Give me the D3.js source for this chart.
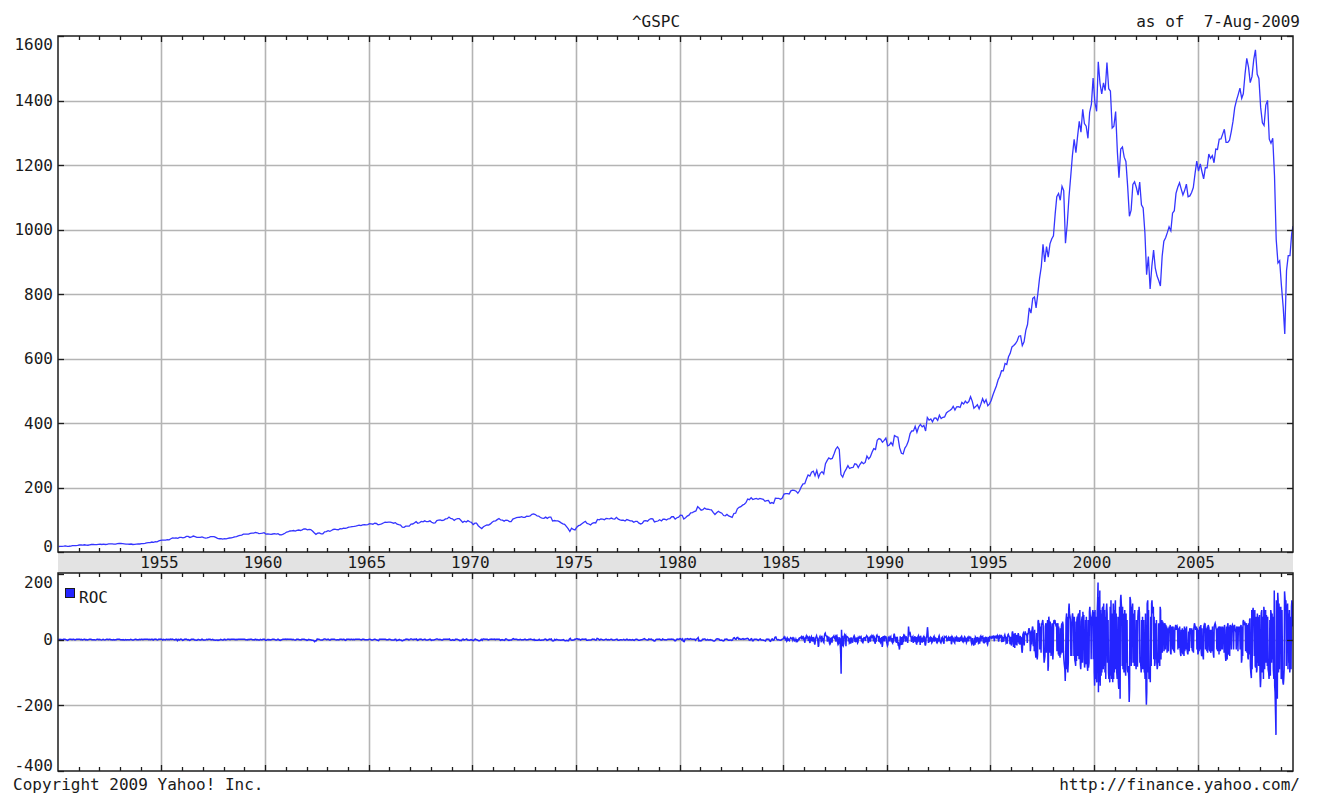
<!DOCTYPE html>
<html>
<head>
<meta charset="utf-8">
<script src="https://cdn.jsdelivr.net/npm/d3@7"></script>
<style>
  body { margin: 0; background: #fff; }
  text { font-family: "DejaVu Sans Mono", monospace; font-size: 16px; fill: #1a1a1a; }
</style>
</head>
<body>
<svg id="chart" width="1318" height="794"></svg>
<script>
// ^GSPC price history with a rate-of-change panel underneath.
const symbol = "^GSPC";
const asOfLabel = "as of  7-Aug-2009";
const copyrightLabel = "Copyright 2009 Yahoo! Inc.";
const sourceLabel = "http://finance.yahoo.com/";
const rocLabel = "ROC";

const firstYear = 1950;
const weeklyFromYear = 1985;
const startDate = new Date(1950, 0, 3);
const endDate = new Date(2009, 7, 7);

// Index level, one value per month, one row per year from 1950.
const price = [
  [17.1, 17.2, 17.3, 18.0, 18.8, 17.7, 17.8, 18.4, 19.5, 19.5, 19.5, 20.4],
  [21.7, 21.8, 21.4, 22.4, 21.5, 21.0, 22.4, 23.3, 23.3, 22.9, 22.9, 23.8],
  [24.1, 23.3, 24.4, 23.3, 23.9, 25.0, 25.4, 25.0, 24.5, 24.5, 25.7, 26.6],
  [26.4, 25.9, 25.3, 24.6, 24.5, 24.1, 24.8, 23.3, 23.4, 24.5, 24.8, 24.8],
  [26.1, 26.2, 26.9, 28.3, 29.2, 29.2, 30.9, 29.8, 32.3, 31.7, 34.2, 36.0],
  [36.6, 36.8, 36.6, 38.0, 37.9, 41.0, 43.5, 43.2, 43.7, 42.3, 45.5, 45.5],
  [43.8, 45.3, 48.5, 48.4, 45.2, 47.0, 49.4, 47.5, 45.4, 45.6, 45.1, 46.7],
  [44.7, 43.3, 44.1, 45.7, 47.4, 47.4, 47.9, 45.2, 42.4, 41.1, 41.7, 40.0],
  [41.7, 40.8, 42.1, 43.4, 44.1, 45.2, 47.2, 47.8, 50.1, 51.3, 52.5, 55.2],
  [55.4, 55.4, 55.4, 57.6, 58.7, 58.5, 60.5, 59.6, 56.9, 57.5, 58.3, 59.9],
  [55.6, 56.1, 55.3, 54.4, 55.8, 56.9, 55.5, 57.0, 53.5, 53.4, 55.5, 58.1],
  [61.8, 63.4, 65.1, 65.3, 66.6, 64.6, 66.8, 68.1, 66.7, 68.6, 71.3, 71.6],
  [68.8, 70.0, 69.6, 65.2, 59.6, 54.8, 58.2, 59.1, 56.3, 56.5, 62.3, 63.1],
  [66.2, 64.3, 66.6, 69.8, 70.8, 69.4, 69.1, 72.5, 71.7, 74.0, 73.2, 75.0],
  [77.0, 77.8, 79.0, 79.5, 80.4, 81.7, 83.2, 81.8, 84.2, 84.9, 84.4, 84.8],
  [87.6, 87.4, 86.2, 89.1, 88.4, 84.1, 85.3, 87.2, 90.0, 92.4, 91.6, 92.4],
  [92.9, 91.2, 89.2, 91.1, 86.1, 84.7, 83.6, 77.1, 76.6, 80.2, 80.5, 80.3],
  [86.6, 86.8, 90.2, 94.0, 89.1, 90.6, 94.8, 93.6, 96.7, 93.9, 94.0, 96.5],
  [92.2, 89.4, 90.2, 97.6, 98.7, 99.6, 97.7, 98.9, 102.7, 103.4, 108.4, 103.9],
  [103.0, 98.1, 101.5, 103.7, 103.5, 97.7, 91.8, 95.5, 93.1, 97.2, 93.8, 92.1],
  [85.0, 89.5, 89.6, 81.5, 76.6, 72.7, 78.1, 81.5, 84.2, 83.3, 87.2, 92.2],
  [95.9, 96.8, 100.3, 104.0, 99.6, 98.7, 95.6, 99.0, 98.3, 94.2, 94.0, 102.1],
  [103.9, 106.6, 107.2, 107.7, 109.5, 107.1, 107.4, 111.1, 110.6, 111.6, 116.7, 118.1],
  [116.0, 111.7, 111.5, 107.0, 105.0, 104.3, 108.2, 104.3, 108.4, 108.3, 96.0, 97.6],
  [96.6, 96.2, 94.0, 90.3, 87.3, 86.0, 79.3, 72.2, 63.5, 73.9, 70.0, 68.6],
  [77.0, 81.6, 83.4, 87.3, 91.2, 95.2, 88.8, 86.9, 83.9, 89.0, 91.2, 90.2],
  [100.9, 99.7, 102.8, 101.6, 100.2, 104.3, 103.4, 102.9, 105.2, 102.9, 102.1, 107.5],
  [102.0, 99.8, 98.4, 98.4, 96.1, 100.5, 98.9, 96.8, 96.5, 92.3, 94.8, 95.1],
  [89.3, 87.0, 89.2, 96.8, 97.2, 95.5, 100.7, 103.3, 102.5, 93.2, 94.7, 96.1],
  [99.9, 96.3, 101.6, 101.8, 99.1, 102.9, 103.8, 109.3, 109.3, 101.8, 106.2, 107.9],
  [114.2, 113.7, 102.1, 106.3, 111.2, 114.2, 121.7, 122.4, 125.5, 127.5, 140.5, 135.8],
  [129.6, 131.3, 136.0, 132.8, 132.6, 131.2, 130.9, 122.8, 116.2, 121.9, 126.4, 122.6],
  [120.4, 113.1, 112.0, 116.4, 111.9, 109.6, 107.1, 119.5, 120.4, 133.7, 138.5, 140.6],
  [145.3, 148.1, 153.0, 164.4, 162.4, 168.1, 162.6, 164.4, 166.1, 163.6, 166.4, 164.9],
  [163.4, 157.1, 159.2, 160.1, 150.6, 153.2, 150.7, 166.7, 166.1, 166.1, 163.6, 167.2],
  [179.6, 181.2, 180.7, 179.8, 189.6, 191.9, 190.9, 188.6, 182.1, 189.8, 202.2, 211.3],
  [211.8, 226.9, 238.9, 235.5, 247.4, 250.8, 236.1, 252.9, 231.3, 244.0, 249.2, 242.2],
  [274.1, 284.2, 291.7, 288.4, 290.1, 304.0, 318.7, 326.0, 318.0, 240.0, 232.0, 247.1],
  [257.1, 267.8, 258.9, 261.3, 262.2, 273.5, 272.0, 261.5, 271.9, 279.0, 273.7, 277.7],
  [297.5, 288.9, 294.9, 309.6, 320.5, 318.0, 346.1, 351.5, 349.2, 340.4, 346.0, 353.4],
  [329.1, 331.9, 339.9, 330.8, 361.2, 358.0, 356.2, 322.6, 306.1, 304.0, 322.2, 330.2],
  [343.9, 367.1, 375.2, 375.3, 389.8, 371.2, 387.8, 395.4, 387.9, 392.5, 375.2, 417.1],
  [408.8, 412.7, 403.7, 415.0, 415.4, 408.1, 424.2, 414.0, 417.8, 418.7, 431.4, 435.7],
  [438.8, 443.4, 451.7, 440.2, 450.2, 450.5, 448.1, 463.6, 458.9, 467.8, 461.8, 466.5],
  [481.6, 467.1, 445.8, 450.9, 456.5, 444.3, 458.3, 475.5, 462.7, 472.4, 453.7, 459.3],
  [470.4, 487.4, 500.7, 514.7, 533.4, 544.8, 562.1, 561.9, 584.4, 581.5, 605.4, 615.9],
  [636.0, 640.4, 645.5, 654.2, 669.1, 670.6, 640.0, 652.0, 687.3, 705.3, 757.0, 740.7],
  [786.2, 790.8, 757.1, 801.3, 848.3, 885.1, 954.3, 899.5, 947.3, 914.6, 955.4, 970.4],
  [980.3, 1049.3, 1101.8, 1111.8, 1090.8, 1133.8, 1120.7, 957.3, 1017.0, 1098.7, 1163.6, 1229.2],
  [1279.6, 1238.3, 1286.4, 1335.2, 1301.8, 1372.7, 1328.7, 1320.4, 1282.7, 1362.9, 1388.9, 1469.3],
  [1394.5, 1366.4, 1520.0, 1452.4, 1420.6, 1454.6, 1430.8, 1517.7, 1436.5, 1429.4, 1315.0, 1320.3],
  [1366.0, 1239.9, 1160.3, 1249.5, 1255.8, 1224.4, 1211.2, 1133.6, 1040.9, 1059.8, 1139.5, 1148.1],
  [1130.2, 1106.7, 1147.4, 1076.9, 1067.1, 989.8, 860.0, 916.1, 815.3, 885.8, 936.3, 879.8],
  [855.7, 841.2, 825.0, 916.9, 963.6, 974.5, 990.3, 1008.0, 996.0, 1050.7, 1058.2, 1111.9],
  [1131.1, 1144.9, 1126.2, 1107.3, 1120.7, 1140.8, 1101.7, 1104.2, 1114.6, 1130.2, 1173.8, 1211.9],
  [1181.3, 1203.6, 1180.6, 1156.9, 1191.5, 1191.3, 1234.2, 1220.3, 1228.8, 1207.0, 1249.5, 1248.3],
  [1280.1, 1280.7, 1294.9, 1310.6, 1270.1, 1270.2, 1276.7, 1303.8, 1335.9, 1377.9, 1400.6, 1418.3],
  [1438.2, 1406.8, 1420.9, 1482.4, 1530.6, 1503.4, 1455.3, 1474.0, 1526.8, 1557.0, 1481.1, 1468.4],
  [1378.6, 1330.6, 1322.7, 1385.6, 1400.4, 1280.0, 1267.4, 1282.8, 1166.4, 968.8, 896.2, 903.3],
  [825.9, 760.0, 676.0, 872.8, 919.1, 919.3, 987.5, 1010.5]
];

// Rate of change, two readings per month, one row per year, 1950-1984.
const rocSemiMonthly = [
  [0, 1, 0, 1, 0, 0, 1, 1, 1, 0, -1, -2, 0, 1, 1, 1, 0, 1, 1, 0, 0, 1, 1, 1],
  [1, 1, 0, 1, -1, 0, 1, 1, -1, 0, -1, 0, 1, 1, 1, 0, 0, 0, 0, -1, 0, 1, 1, 0],
  [1, 0, -1, 0, 1, 0, -1, 0, 1, 1, 0, 1, 1, 0, 0, -1, 0, -1, 0, 0, 1, 1, 1, 1],
  [0, 0, -1, 0, -1, -1, 0, -1, 0, 0, -1, 0, 1, 0, -1, -1, 0, 1, 1, 0, 0, 0, 1, 0],
  [1, 1, 0, 1, 1, 1, 1, 1, 1, 0, 1, 0, 1, 1, -1, 1, 1, 2, 0, -1, 1, 1, 2, 1],
  [1, -1, 1, 0, -1, 1, 1, 0, 1, 0, 2, 1, 2, 1, 0, -1, 1, 1, -3, 1, -1, 1, 2, 1],
  [-2, -1, 1, 1, 2, 1, -1, 0, -2, -1, 1, 1, 1, 1, -1, -1, -2, -1, 1, 0, -1, -1, 1, 1],
  [-1, -1, -1, 0, 1, 0, 1, 1, 1, 0, 0, 1, -1, -1, -2, -1, -1, -2, -1, -1, 1, 0, -1, -1],
  [1, 1, -1, 0, 1, 1, 1, 0, 1, 1, 1, 1, 1, 0, 1, 0, 1, 1, 1, 1, 1, 1, 1, 1],
  [1, 0, 0, -1, 1, 0, 1, 1, 1, 0, 0, -1, 1, 1, -1, 0, -1, -1, 1, 0, 0, 1, 1, 1],
  [-2, -2, 0, 1, -1, 0, -1, 0, 1, 1, 1, 0, -1, -1, 1, 1, -1, -2, -1, 0, 1, 1, 1, 2],
  [1, 2, 1, 1, 1, 1, 1, 0, 1, 0, -1, -1, 1, 1, 1, 0, 0, -1, 1, 1, 1, 1, 0, 0],
  [-2, -1, 1, 0, 0, -1, -2, -2, -3, -6, -3, -3, 2, 1, 1, 0, -1, -1, -1, 1, 2, 2, 1, 0],
  [1, 1, -1, -1, 1, 1, 1, 1, 1, 0, -1, 0, 0, -1, 1, 1, 1, 0, 1, 1, -1, -2, 1, 1],
  [1, 1, 0, 1, 1, 0, 1, 0, 1, 1, 1, 1, 1, 1, 0, -1, 1, 1, 1, 0, 0, 0, 0, 0],
  [1, 1, 0, -1, -1, 0, 1, 1, 0, -1, -2, -3, 1, 1, 1, 1, 1, 1, 1, 1, 0, 0, 0, 1],
  [1, 0, -1, -1, -1, -1, 1, 1, -3, -2, -1, 1, -1, -1, -3, -3, -1, -1, 1, 2, 1, 1, -1, 0],
  [2, 2, 1, 0, 1, 1, 1, 2, -2, -1, 1, 1, 2, 1, -1, 0, 1, 1, -1, -1, -1, 0, 1, 1],
  [-2, -1, -1, -1, 0, 1, 2, 2, 1, 0, 1, 0, -1, -1, 1, 1, 1, 1, 1, 1, 1, 2, -1, -2],
  [-1, 0, -2, -2, 1, 1, 1, 0, -1, -3, -2, -3, 1, 2, -1, 0, 1, 2, -1, -1, -2, -1, 0, -1],
  [-2, -3, 1, 2, 0, 0, -2, -3, -3, -2, 1, -2, 2, 2, 1, 1, 1, 1, -1, 0, 1, 1, 2, 1],
  [1, 2, 0, 1, 1, 1, 1, 1, -2, -1, 0, -1, -1, -2, 2, 2, 0, -1, -2, -1, -1, -1, 2, 3],
  [1, 1, 1, 1, 0, 0, 0, 1, 0, -1, 0, 0, 1, 1, -1, 0, 0, 1, 1, 2, 1, 0, -1, 1],
  [-2, -1, -2, -2, -1, 1, -2, -2, -1, -1, -1, 1, 2, 1, -2, -1, 1, 2, 1, 2, -3, -4, -3, 1],
  [-1, 1, 0, -1, -1, -1, -2, -1, -1, 0, -2, -3, -3, -2, -3, -3, 2, 4, -1, -2, -1, -1, 1, 1],
  [3, 3, 1, 2, 1, -1, 1, 2, 1, 1, 1, 2, -2, -2, -1, -1, -1, -1, 1, 2, 1, 1, -1, -1],
  [4, 3, 1, -1, 1, 1, 0, -1, -1, 0, 1, 1, -1, 0, -1, 0, 1, 1, -1, -1, -1, 0, 1, 2],
  [-1, -2, -1, 0, 0, -1, 0, 1, -1, -1, 1, 1, -1, -1, 0, -1, -1, 0, -1, -2, 0, 1, 1, 0],
  [-2, -2, -1, 0, 0, 1, 2, 3, 1, 0, -1, -1, 2, 1, 1, 2, -1, -1, -4, -4, 0, 1, 1, 1],
  [2, 1, -1, -1, 2, 1, 0, 0, -1, 0, 1, 1, 1, 1, 2, 1, 1, 0, -3, -3, 1, 2, 1, 1],
  [3, 2, -1, 2, -5, -6, 2, 2, 2, 3, 1, 1, 3, 2, 1, 1, 1, 1, -2, 2, 3, 6, -4, -3],
  [-4, -3, 1, 1, 2, 2, -1, -1, 1, -1, -1, 0, -1, -1, -3, -4, -4, -2, 2, 3, 2, 2, -1, -2],
  [-1, -2, -4, -3, 1, 1, 2, 1, -2, -2, -1, -1, -2, -1, 5, 6, 2, 1, 6, 7, 2, 3, 1, 1],
  [2, 3, 1, 2, 2, 3, 4, 3, -1, -2, 2, 3, -3, -3, 1, 1, 1, 1, -1, -2, 1, 2, -1, -1],
  [-1, -2, -3, -4, 1, 2, 1, 1, -4, -5, 1, 2, -2, -1, 7, 8, 1, -1, 0, -1, -2, -1, 1, 2]
];

// Rate of change, four readings per month, one row per year, 1985 to Aug 2009.
const rocWeekly = [
  [3, 6, 8, 5, 2, -3, 4, 1, -4, -2, 3, -1, 1, -2, -3, 2, 4, 6, 5, 3, 2, 4, -1, 3, 5, 2, -3, -2, -3, 1, -4, -2, -6, -5, 2, -3, 4, 5, 3, 6, 7, 8, 5, 9, 6, 10, 4, 7],
  [2, -6, -9, 5, 8, 11, 6, 9, 10, 7, -4, 6, 8, -7, -10, 3, 7, 9, -5, 6, 4, -6, 8, 5, -10, -15, -8, 4, 9, 12, 7, 5, -6, -22, -18, 4, 7, 10, 6, 3, -8, 12, 6, -4, 5, -7, -9, 8],
  [18, 20, 15, 12, 10, 8, -6, 9, 8, -5, 9, -10, -14, -12, 6, -8, 7, -9, 5, 8, 9, 11, 6, 4, 8, 10, -6, 9, 12, 6, -10, -15, -12, 8, -9, 6, -20, -45, -104, 30, -20, 12, -15, -18, -12, 10, 14, 9],
  [12, -20, 8, 10, 9, 7, 6, -5, 4, -10, -8, 6, -12, 7, -5, 4, -9, -6, 5, 8, 12, 9, -7, 6, -8, 5, -6, 7, -10, -8, 6, 4, 7, 9, 5, 6, 8, -6, 5, -7, -9, -5, 4, 6, 5, 6, -4, 7],
  [8, 12, 10, 9, -6, -10, 7, -5, 6, 8, -6, 5, 9, 12, 8, 10, 7, -5, 10, 8, -9, -12, 6, -7, 12, 14, 10, 9, 8, -6, 12, -5, -7, -9, 6, -5, 8, -22, -15, 10, 6, 8, -5, 7, 9, 7, 10, -6],
  [-12, -18, -15, 6, 8, -5, 6, 4, 7, 9, -6, 5, -8, -10, 5, -9, 14, 18, 12, 8, -6, 8, -10, 5, 9, -8, -14, -12, -22, -30, -18, 10, -12, -16, 8, -10, -15, 10, -8, 12, 9, 12, 8, -6, 10, 7, -5, 6],
  [-10, 8, 40, 25, 20, 15, 18, 10, 8, -7, 10, 6, 9, -10, 8, -6, 7, 10, -8, 9, -12, -15, 8, -9, 10, 12, -6, 8, 7, -16, 12, 6, -8, 6, -9, 5, 7, 9, -7, 10, -14, -18, -12, 6, 8, 22, 38, 25],
  [-10, 6, -8, 5, 7, -6, 8, 5, -9, -7, 6, -5, 8, 10, -6, 7, 5, -4, 6, -7, -10, -8, 5, -6, 9, 12, 7, -5, -8, -10, -6, 5, 7, -5, 6, -8, -12, 8, 6, 7, 9, 10, 6, -5, 6, -4, 5, 8],
  [5, -4, 6, 7, 8, -14, -10, 9, 7, -5, 6, -4, -8, -10, 6, 5, 7, -5, 8, 6, -6, 7, -5, 6, -7, 5, 6, -4, 8, 10, 6, -5, -7, 6, -8, 5, 9, 7, -6, 5, -9, -6, 5, 7, 6, -5, 7, 5],
  [8, 6, 9, -5, -12, -8, 5, -10, -14, -18, -10, 6, -15, 8, 6, -9, 7, -6, 8, 5, -10, -8, 6, -12, 8, 10, -5, 7, 9, 6, 8, -6, -10, 7, -9, -8, 6, 9, -7, 8, -12, -15, -8, 6, 5, -6, 8, 7],
  [6, 8, 5, 7, 9, 6, 8, 10, 7, -5, 9, 8, 10, 7, 9, 6, 12, 9, 10, -6, 8, 11, 7, 9, 12, 10, -8, 9, 6, -7, 8, -5, 12, 15, 10, 8, -10, -8, 9, -12, 14, 16, 12, 10, 8, -14, -10, 9],
  [-18, -12, 20, 25, 15, -22, 18, -12, -25, 20, -15, 12, 10, -18, 15, -8, 20, 15, -12, 10, -15, 12, -10, 8, -25, -40, -30, 15, 20, 15, -18, 12, 25, 20, 18, 15, 12, -10, 20, 15, 30, 35, 25, 20, -35, -20, 28, -15],
  [30, 40, 35, -20, 25, -35, 30, -30, -40, -55, -30, 20, -60, -45, 55, 60, 45, 50, -30, 40, 35, -40, 50, 45, 55, 60, 45, -35, -70, -60, -50, 40, 50, -40, 45, 35, 60, -95, -80, 70, 50, -40, 55, 45, -50, 40, -45, 50],
  [-60, -40, 50, 60, 55, 60, 50, 45, 40, 50, -35, 45, 50, -45, 40, -50, -40, -55, 35, -45, 40, 50, -40, 55, 45, -35, -60, -75, -90, -126, -80, 60, 80, -90, 70, -100, -70, 90, 110, 80, 70, 60, -50, 55, -50, 70, 80, 65],
  [60, -50, 70, -60, -70, -80, 55, -65, 60, 70, -50, 75, 80, -60, 70, 90, -75, -90, -60, 55, 70, -70, 85, 60, 75, -60, -85, -70, 60, -75, 70, -55, -80, -95, 60, -85, -70, 85, 100, 75, 60, -60, 70, 65, 80, 90, -60, 85],
  [-100, -140, 90, -120, 70, -110, -130, 80, 120, 174, -160, 130, -130, 150, -140, 90, -110, 80, -100, 95, 100, -90, 110, -80, 90, -100, 70, -120, 90, 110, 80, -70, 60, -100, -120, -90, -130, 100, -110, 120, -120, -90, 80, -130, 110, -120, 90, -100],
  [100, 120, -90, 80, -100, -120, -90, 70, -130, -150, -110, 100, -180, 120, 137, 110, 90, -80, 100, -90, 80, -100, -80, 90, -90, -110, 80, -70, 60, -90, -100, -80, -120, -190, -150, 130, 120, 90, -80, 100, 90, 110, -70, 80, 70, -80, 90, -60],
  [-70, -90, 60, -80, -80, 70, 90, 60, 100, 80, -70, -60, -80, -100, 60, -90, 70, -90, -80, 60, -100, -90, -120, 80, -150, -198, -160, 110, 120, -100, 90, -120, -110, -90, -130, 70, -80, 110, 120, 90, 80, 100, -60, 70, -80, -70, 50, -60],
  [60, -70, -90, -80, -60, 50, -70, 40, -80, 100, 90, -60, 50, 60, -40, 55, 45, 50, -35, 40, 50, -30, 45, 35, 40, -40, 35, -30, -35, 30, 40, 25, 45, -40, -45, 30, 40, 35, -30, 40, -35, 30, -40, 35, 40, 45, 30, 35],
  [40, 35, -30, 30, 35, -25, 40, -30, -45, -50, 30, -40, 35, -40, -45, 30, -50, 40, -35, 30, 35, -30, 40, -25, -40, -45, -30, 25, -35, 30, 35, 25, 30, -25, 35, -30, -35, 30, -40, 35, 50, 45, 40, 30, 35, 40, -30, 35],
  [-45, -40, 30, -35, 40, 35, -30, 45, -40, -50, 35, -30, -50, -60, 40, 45, 40, 50, -30, 35, 30, -35, 40, -40, 45, 40, 35, -30, -35, 30, -40, -30, 30, -35, 40, -25, -45, -55, 40, 45, 50, 45, 35, 30, -30, 35, -35, 30],
  [40, -45, 35, 40, -35, 30, 40, -30, 35, -30, 40, 30, 35, -40, 45, 30, -50, -65, -55, 40, -60, 45, 50, -40, -45, 40, -50, 45, 40, 35, -30, 40, 45, 40, 35, -30, 40, 45, 35, 30, 35, -30, 40, 35, 30, -35, 40, 30],
  [40, 35, -30, 40, 45, -70, -60, 40, -50, 55, 60, 45, 50, 55, 40, -35, 45, 50, -40, 45, -55, -60, 50, -45, 60, 65, -80, -100, -117, 90, -90, 80, 97, 70, 60, -50, 90, -80, -85, 70, -100, -90, 80, -70, 70, -80, -60, 75],
  [-110, -145, -120, 80, 90, -100, -80, 70, -120, 100, 86, -90, 80, 90, -70, 75, 60, -80, 70, -90, -100, -120, -90, 60, -110, 90, 80, -70, 80, -60, 70, -90, -120, 150, -140, -160, -230, -290, 120, -150, -180, 143, 120, -100, 110, -90, 100, 80],
  [100, -120, -110, 90, -100, -130, -137, -120, -90, 147, 130, 110, 120, -80, 100, 90, 110, -90, 80, -70, 90, -100, -80, 70, -90, 100, 120, 110, 40]
];

const yearTicks = [1955, 1960, 1965, 1970, 1975, 1980, 1985, 1990, 1995, 2000, 2005];
const priceTicks = [0, 200, 400, 600, 800, 1000, 1200, 1400, 1600];
const rocTicks = [-400, -200, 0, 200];

// Layout
const left = 58, right = 1293;
const mainTop = 36, mainBottom = 552;
const bandBottom = 573;
const rocTop = 574, rocBottom = 771;

const svg = d3.select("#chart");

const x = d3.scaleTime().domain([startDate, endDate]).range([left, right]);
const yPrice = d3.scaleLinear().domain([0, 1600]).range([mainBottom, mainTop]);
const yRoc = d3.scaleLinear().domain([-400, 200]).range([rocBottom, rocTop]);

const clampDate = d => (d > endDate ? endDate : d);

const pricePoints = price.flatMap((vals, yi) =>
  vals.map((v, m) => ({ date: clampDate(new Date(firstYear + yi, m, 15)), v })));
const rocPoints = [
  ...rocSemiMonthly.flatMap((vals, yi) =>
    vals.map((v, i) => ({ date: new Date(firstYear + yi, Math.floor(i / 2), i % 2 ? 23 : 8), v }))),
  ...rocWeekly.flatMap((vals, yi) =>
    vals.map((v, i) => ({ date: clampDate(new Date(weeklyFromYear + yi, Math.floor(i / 4), 4 + (i % 4) * 7)), v })))
];

const gridColor = "#b4b4b4";
const frameColor = "#1c1c1c";

// Date band between the two panels
svg.append("rect")
  .attr("x", left).attr("y", mainBottom)
  .attr("width", right - left).attr("height", bandBottom - mainBottom)
  .attr("fill", "#e3e3e3");

// Grid lines
const grid = svg.append("g").attr("stroke", gridColor).attr("stroke-width", 1.6);
yearTicks.forEach(yr => {
  const gx = Math.round(x(new Date(yr, 0, 1))) + 0.5;
  grid.append("line").attr("x1", gx).attr("x2", gx).attr("y1", mainTop).attr("y2", mainBottom);
  grid.append("line").attr("x1", gx).attr("x2", gx).attr("y1", rocTop).attr("y2", rocBottom);
});
priceTicks.slice(1, -1).forEach(v => {
  const gy = Math.round(yPrice(v)) + 0.5;
  grid.append("line").attr("x1", left).attr("x2", right).attr("y1", gy).attr("y2", gy);
});
rocTicks.slice(1, -1).forEach(v => {
  const gy = Math.round(yRoc(v)) + 0.5;
  grid.append("line").attr("x1", left).attr("x2", right).attr("y1", gy).attr("y2", gy);
});

// Clip paths for the two panels
const defs = svg.append("defs");
defs.append("clipPath").attr("id", "clip-main").append("rect")
  .attr("x", left).attr("y", mainTop).attr("width", right - left).attr("height", mainBottom - mainTop);
defs.append("clipPath").attr("id", "clip-roc").append("rect")
  .attr("x", left).attr("y", rocTop).attr("width", right - left).attr("height", rocBottom - rocTop);

// Price line
svg.append("path")
  .datum(pricePoints)
  .attr("clip-path", "url(#clip-main)")
  .attr("fill", "none")
  .attr("stroke", "#3535ff")
  .attr("stroke-width", 1.3)
  .attr("d", d3.line().x(d => x(d.date)).y(d => yPrice(d.v)));

// ROC line
svg.append("path")
  .datum(rocPoints)
  .attr("clip-path", "url(#clip-roc)")
  .attr("fill", "none")
  .attr("stroke", "#2424ff")
  .attr("stroke-width", 1.5)
  .attr("d", d3.line().x(d => x(d.date)).y(d => yRoc(d.v)));

// Frames
const frame = svg.append("g").attr("fill", "none").attr("stroke", frameColor).attr("stroke-width", 1.5);
frame.append("rect").attr("x", left).attr("y", mainTop).attr("width", right - left).attr("height", mainBottom - mainTop);
frame.append("rect").attr("x", left).attr("y", rocTop - 1).attr("width", right - left).attr("height", rocBottom - rocTop + 1);

// Year ticks along each panel edge
const ticks = svg.append("g").attr("stroke", frameColor).attr("stroke-width", 1.3);
const yearDates = x.ticks(d3.timeYear.every(1)).filter(d => d > startDate && d < endDate);
yearDates.forEach(d => {
  const tx = Math.round(x(d)) + 0.5;
  const len = d.getFullYear() % 5 === 0 ? 6 : 4;
  ticks.append("line").attr("x1", tx).attr("x2", tx).attr("y1", mainTop).attr("y2", mainTop + len);
  ticks.append("line").attr("x1", tx).attr("x2", tx).attr("y1", mainBottom - len).attr("y2", mainBottom);
  ticks.append("line").attr("x1", tx).attr("x2", tx).attr("y1", rocTop - 1).attr("y2", rocTop - 1 + len);
  ticks.append("line").attr("x1", tx).attr("x2", tx).attr("y1", rocBottom - len).attr("y2", rocBottom);
});

// Value ticks on left and right edges
priceTicks.forEach(v => {
  const ty = Math.round(yPrice(v)) + 0.5;
  ticks.append("line").attr("x1", left).attr("x2", left + 6).attr("y1", ty).attr("y2", ty);
  ticks.append("line").attr("x1", right - 6).attr("x2", right).attr("y1", ty).attr("y2", ty);
});
rocTicks.forEach(v => {
  const ty = Math.round(yRoc(v)) + 0.5;
  ticks.append("line").attr("x1", left).attr("x2", left + 6).attr("y1", ty).attr("y2", ty);
  ticks.append("line").attr("x1", right - 6).attr("x2", right).attr("y1", ty).attr("y2", ty);
});

// Value labels, kept inside their panel
const labelY = (py, top, bottom) => Math.min(Math.max(py, top + 8), bottom - 6);
priceTicks.forEach(v => {
  svg.append("text")
    .attr("x", 53).attr("y", labelY(yPrice(v), mainTop, mainBottom))
    .attr("dy", "0.36em").attr("text-anchor", "end").text(v);
});
rocTicks.forEach(v => {
  svg.append("text")
    .attr("x", 53).attr("y", labelY(yRoc(v), rocTop, rocBottom))
    .attr("dy", "0.36em").attr("text-anchor", "end").text(v);
});

// Year labels in the band
yearTicks.forEach(yr => {
  svg.append("text")
    .attr("x", x(new Date(yr, 0, 1)) - 2).attr("y", 568)
    .attr("text-anchor", "middle").text(yr);
});

// Legend
svg.append("rect")
  .attr("x", 65.5).attr("y", 588.5).attr("width", 9).attr("height", 9)
  .attr("fill", "#2424ff").attr("stroke", frameColor).attr("stroke-width", 1);
svg.append("text").attr("x", 79).attr("y", 603).text(rocLabel);

// Header and footer
svg.append("text").attr("x", 656).attr("y", 27).attr("text-anchor", "middle").text(symbol);
svg.append("text").attr("x", 1300).attr("y", 27).attr("text-anchor", "end")
  .style("white-space", "pre").text(asOfLabel);
svg.append("text").attr("x", 13).attr("y", 790).text(copyrightLabel);
svg.append("text").attr("x", 1300).attr("y", 790).attr("text-anchor", "end").text(sourceLabel);
</script>
</body>
</html>
